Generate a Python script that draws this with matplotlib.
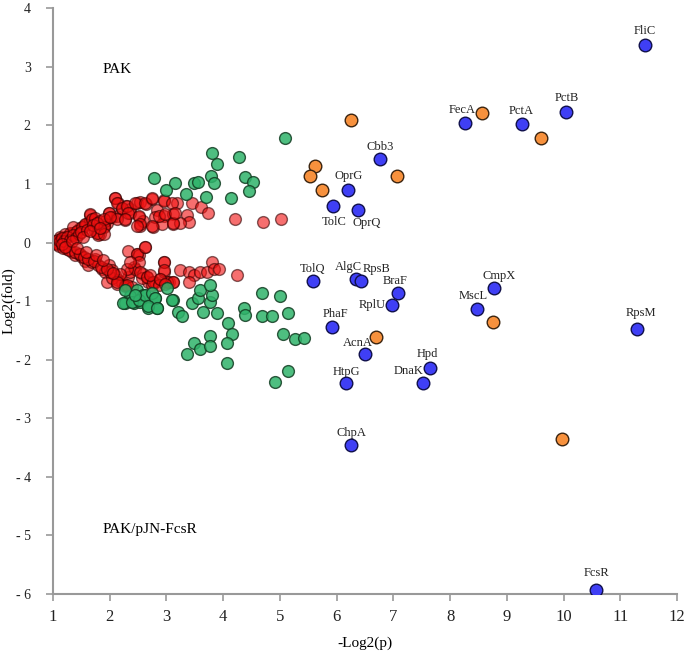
import numpy as np
import matplotlib
matplotlib.use("Agg")
import matplotlib.pyplot as plt

plt.rcParams["font.family"] = ["Liberation Serif", "DejaVu Serif"]
plt.rcParams["axes.unicode_minus"] = False

# red points: not significant
red_x = [1.04, 1.12, 1.21, 1.30, 1.36, 1.42, 1.48, 1.54, 1.59, 1.65, 1.71, 1.65, 1.74, 1.83, 1.80,
         1.89, 1.95, 1.98, 1.92, 2.04, 2.12, 2.09, 2.14, 2.21, 2.29, 2.35, 2.27, 2.48, 2.54, 2.64,
         2.51, 2.54, 2.77, 2.75, 2.95, 2.84, 2.80, 2.95, 3.12, 3.18, 3.36, 3.39, 3.12, 3.45, 3.61,
         3.74, 4.21, 4.70, 5.02, 2.36, 2.59, 2.92, 3.24,
         1.12, 1.21, 1.30, 1.36, 1.42, 1.51, 1.56, 1.65, 1.68, 1.74, 1.83, 1.77, 1.89, 1.89, 1.98,
         2.09, 2.12, 2.21, 2.30, 2.33, 2.12, 2.27, 2.45, 2.51, 2.54, 2.48, 2.62, 2.74, 2.74, 2.95,
         2.86, 2.98, 3.12, 3.09, 3.15,
         1.06, 1.15, 1.24, 1.33, 1.39, 1.45, 1.51, 1.56, 1.62, 1.68, 1.74, 1.80, 1.86, 1.92, 1.98,
         2.04, 2.09, 2.15, 2.21, 2.27, 2.33, 2.36, 2.42, 2.48, 2.62, 2.51, 2.45, 2.30, 1.95, 2.04,
         2.12, 2.27, 2.59, 2.65, 2.68, 2.74, 2.80, 2.89, 2.95, 2.95, 3.04, 3.12, 2.56, 2.39,
         2.33, 2.48, 2.62, 2.51, 2.36, 2.18, 2.30, 2.54, 2.65, 2.77, 2.86, 2.95, 2.95, 3.01, 3.12,
         3.24, 3.39, 3.48, 3.39, 3.59, 3.71, 3.80, 3.83, 3.92, 4.24, 2.01, 2.12, 2.71, 2.89, 2.98,
         1.02, 1.05, 1.08, 1.10, 1.12, 1.15, 1.18, 1.20, 1.25, 1.28, 1.30, 1.35, 1.38, 1.40, 1.45,
         1.48, 1.50, 1.55, 1.60, 1.62, 1.70, 1.72, 1.78, 1.85, 1.90, 1.95, 2.00, 2.05, 1.15, 1.22,
         1.33, 1.42, 1.52, 1.58, 1.66, 1.75, 1.82, 1.88]
red_y = [0.00, 0.06, 0.09, 0.13, 0.17, 0.20, 0.24, 0.28, 0.31, 0.37, 0.41, 0.47, 0.20, 0.15, 0.12,
         0.28, 0.34, 0.51, 0.37, 0.43, 0.46, 0.76, 0.68, 0.57, 0.63, 0.58, 0.39, 0.68, 0.70, 0.66,
         0.43, 0.28, 0.26, 0.75, 0.72, 0.55, 0.43, 0.46, 0.48, 0.68, 0.47, 0.35, 0.31, 0.68, 0.61,
         0.50, 0.40, 0.35, 0.40, 0.51, 0.37, 0.31, 0.34,
         0.09, 0.14, 0.17, 0.26, 0.20, 0.26, 0.31, 0.48, 0.40, 0.42, 0.37, 0.17, 0.26, 0.14, 0.51,
         0.76, 0.68, 0.59, 0.62, 0.51, 0.40, 0.40, 0.68, 0.45, 0.31, 0.28, 0.68, 0.76, 0.28, 0.71,
         0.45, 0.48, 0.34, 0.68, 0.51,
         0.00, -0.05, -0.11, -0.17, -0.22, -0.19, -0.25, -0.31, -0.39, -0.33, -0.28, -0.39, -0.45,
         -0.50, -0.39, -0.47, -0.56, -0.64, -0.67, -0.73, -0.59, -0.50, -0.42, -0.19, -0.08, -0.22,
         -0.45, -0.45, -0.67, -0.61, -0.70, -0.75, -0.53, -0.59, -0.67, -0.73, -0.67, -0.62, -0.33,
         -0.50, -0.67, -0.67, -0.61, -0.76,
         -0.14, -0.19, -0.08, -0.33, -0.33, -0.53, -0.73, -0.50, -0.59, -0.67, -0.73, -0.33, -0.47,
         -0.67, -0.67, -0.47, -0.50, -0.56, -0.67, -0.50, -0.50, -0.33, -0.45, -0.45, -0.56, -0.50,
         -0.67, -0.56, -0.62, -0.70,
         0.02, -0.03, 0.04, -0.06, 0.02, 0.08, -0.09, 0.03, 0.10, -0.13, 0.05, 0.12, -0.16, 0.08,
         0.15, -0.20, 0.18, -0.24, 0.22, -0.28, 0.30, -0.32, 0.33, -0.42, 0.40, -0.45, 0.44, -0.52,
         -0.02, -0.07, 0.02, -0.10, 0.10, -0.16, 0.20, -0.22, 0.25, -0.30]

# green points: large fold change
green_x = [5.09, 3.81, 3.89, 4.28, 2.78, 3.15, 2.99, 3.49, 3.55, 3.79, 3.84, 3.34, 3.69, 4.14,
           4.39, 4.52, 4.45,
           2.48, 2.36, 2.27, 2.42, 2.54, 2.68, 2.83, 2.80, 2.59, 3.12, 3.21, 3.27, 3.45, 3.56,
           3.59, 3.65, 3.77, 3.80, 3.77, 3.89, 4.09, 4.15, 4.06, 4.36, 4.39, 4.68, 4.68, 4.86,
           5.01, 5.15, 5.06, 5.27, 5.42, 3.48, 3.59, 3.77, 3.77, 3.36, 4.06, 5.15, 4.92,
           2.27, 2.24, 2.39, 2.51, 2.62, 2.74, 2.80, 2.68, 2.83, 3.09, 2.45, 3.01]
green_y = [1.79, 1.53, 1.34, 1.46, 1.10, 1.01, 0.89, 1.02, 1.03, 1.13, 1.01, 0.82, 0.78, 0.76,
           1.12, 1.04, 0.88,
           -0.81, -0.92, -1.04, -1.04, -1.01, -1.12, -1.12, -0.95, -0.90, -0.98, -1.18, -1.26,
           -1.04, -0.95, -0.81, -1.18, -1.01, -0.90, -0.73, -1.21, -1.37, -1.57, -1.71, -1.12,
           -1.23, -0.87, -1.26, -1.26, -0.92, -1.21, -1.57, -1.65, -1.63, -1.71, -1.82, -1.60,
           -1.77, -1.91, -2.06, -2.19, -2.38,
           -0.81, -1.04, -1.01, -0.98, -0.90, -0.87, -0.95, -1.09, -1.12, -0.98, -0.90, -0.78]

# orange points
orange_x = [8.56, 9.61, 7.07, 5.62, 5.53, 5.74, 6.26, 6.70, 8.75, 9.97]
orange_y = [2.21, 1.79, 1.13, 1.30, 1.13, 0.89, 2.10, -1.62, -1.36, -3.35]

# blue labelled proteins
blue_names = ["FliC", "FecA", "PctA", "PctB", "Cbb3", "OprG", "TolC", "OprQ", "TolQ", "AlgC",
              "RpsB", "BraF", "RplU", "CmpX", "MscL", "PhaF", "AcnA", "HtpG", "Hpd", "DnaK",
              "ChpA", "RpsM", "FcsR"]
blue_x = [11.43, 8.27, 9.26, 10.05, 6.76, 6.20, 5.94, 6.38, 5.59, 6.34, 6.43, 7.09, 6.98, 8.77,
          8.47, 5.91, 6.50, 6.17, 7.65, 7.52, 6.25, 11.29, 10.58]
blue_y = [3.37, 2.04, 2.02, 2.22, 1.43, 0.90, 0.63, 0.56, -0.65, -0.62, -0.65, -0.87, -1.06,
          -0.77, -1.13, -1.44, -1.90, -2.39, -2.15, -2.40, -3.45, -1.48, -5.93]
# label offsets in pixels (dx, dy)
label_off = [(0, 14), (-3, 13), (0, 13), (0, 14), (0, 12), (1, 14), (1, -16), (8, -13), (-1, 12),
             (-7, 12), (16, 12), (-3, 12), (-20, 0), (5, 12), (-4, 13), (4, 13), (-7, 11), (0, 11),
             (-3, 14), (-14, 12), (1, 12), (4, 16), (0, 17)]

fig = plt.figure(figsize=(6.85, 6.56), dpi=100)
ax = fig.add_axes([0.0774, 0.0945, 0.9109, 0.893])

ax.scatter(red_x, red_y, s=72, c="#f01010", alpha=0.6, edgecolors="#330000", linewidths=1, zorder=2)
ax.scatter(green_x, green_y, s=72, c="#2fb36a", alpha=0.85, edgecolors="#123d22", linewidths=1, zorder=3)
ax.scatter(orange_x, orange_y, s=82, c="#f7913d", edgecolors="#3a2410", linewidths=1, zorder=4)
ax.scatter(blue_x, blue_y, s=82, c="#3f3ff5", edgecolors="#10104a", linewidths=1, zorder=4)

for name, x, y, off in zip(blue_names, blue_x, blue_y, label_off):
    ax.annotate(name, (x, y), xytext=off, textcoords="offset pixels",
                ha="center", va="center", fontsize=9, color="#222222")

ax.text(1.88, 2.95, "PAK", fontsize=11, ha="left", va="center")
ax.text(1.88, -4.9, "PAK/pJN-FcsR", fontsize=11, ha="left", va="center")

ax.set_xlim(1, 12)
ax.set_ylim(-6, 4)
ax.set_xticks(range(1, 13))
ax.set_yticks(range(-6, 5))
ax.set_yticklabels(["- %d" % abs(v) if v < 0 else str(v) for v in range(-6, 5)])

for s in ["top", "right"]:
    ax.spines[s].set_visible(False)
for s in ["left", "bottom"]:
    ax.spines[s].set_color("#999999")
    ax.spines[s].set_linewidth(1.5)
ax.tick_params(axis="both", colors="#999999", length=5, width=1.2, labelcolor="#222222")
ax.tick_params(axis="y", pad=11, labelsize=10)
ax.tick_params(axis="x", pad=6, labelsize=12)

ax.set_xlabel("-Log2(p)", fontsize=11)
ax.set_ylabel("Log2(fold)", fontsize=11)
ax.xaxis.set_label_coords(0.5, -0.073)
ax.yaxis.set_label_coords(-0.060, 0.5)

fig.savefig("out.png", dpi=100)
